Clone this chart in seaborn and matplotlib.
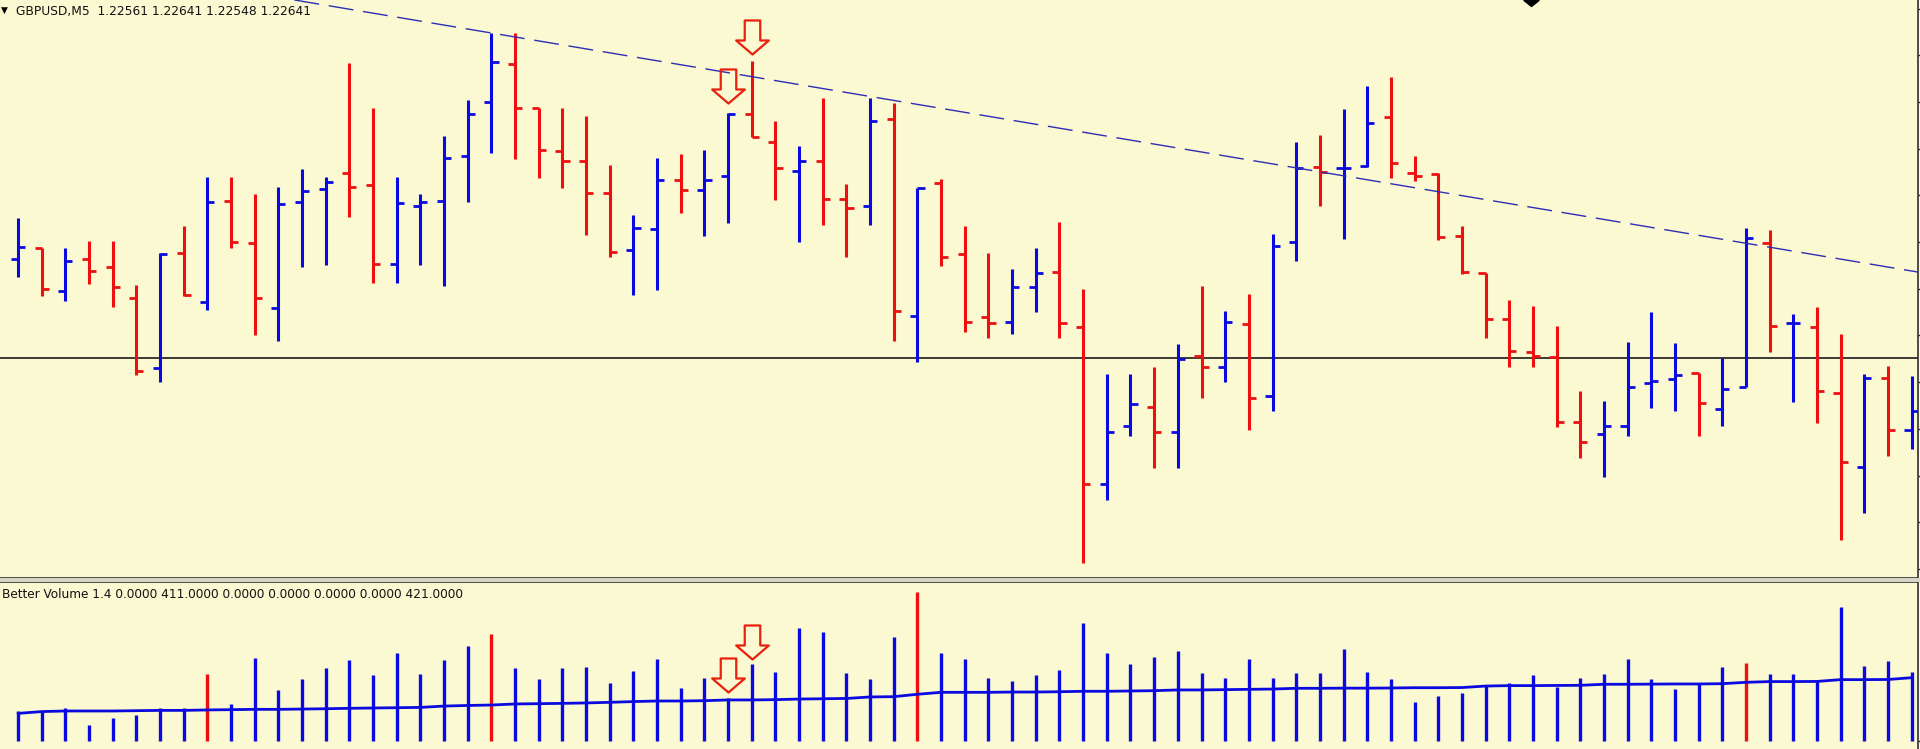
import numpy as np
import pandas as pd
import matplotlib
matplotlib.use("Agg")
import matplotlib.pyplot as plt
import seaborn as sns
from matplotlib.path import Path
from matplotlib.patches import Rectangle

# ---------------- data ----------------
bar_index = list(range(81))
open_ = [1.22691, 1.22702, 1.22659, 1.22691, 1.22683, 1.22652, 1.22582, 1.22697, 1.22648, 1.22749,
         1.22707, 1.22642, 1.22748, 1.22761, 1.22777, 1.22765, 1.22686, 1.22744, 1.22749, 1.22794,
         1.22848, 1.22886, 1.22842, 1.22799, 1.22789, 1.22757, 1.22700, 1.22721, 1.22770, 1.22760,
         1.22774, 1.22836, 1.22808, 1.22779, 1.22789, 1.22751, 1.22744, 1.22831, 1.22634, 1.22767,
         1.22696, 1.22633, 1.22628, 1.22663, 1.22678, 1.22623, 1.22466, 1.22524, 1.22543, 1.22518,
         1.22594, 1.22583, 1.22626, 1.22554, 1.22708, 1.22783, 1.22782, 1.22784, 1.22833, 1.22777,
         1.22776, 1.22714, 1.22677, 1.22631, 1.22598, 1.22593, 1.22528, 1.22516, 1.22524, 1.22567,
         1.22571, 1.22577, 1.22541, 1.22563, 1.22707, 1.22627, 1.22623, 1.22557, 1.22483, 1.22572,
         1.22520]
high = [1.22732, 1.22702, 1.22702, 1.22709, 1.22709, 1.22665, 1.22697, 1.22724, 1.22773, 1.22773,
        1.22756, 1.22763, 1.22781, 1.22773, 1.22887, 1.22842, 1.22773, 1.22756, 1.22814, 1.22850,
        1.22917, 1.22917, 1.22842, 1.22842, 1.22834, 1.22785, 1.22735, 1.22792, 1.22796, 1.22800,
        1.22837, 1.22889, 1.22829, 1.22804, 1.22852, 1.22766, 1.22852, 1.22847, 1.22762, 1.22771,
        1.22724, 1.22697, 1.22681, 1.22702, 1.22728, 1.22661, 1.22576, 1.22576, 1.22583, 1.22606,
        1.22664, 1.22639, 1.22656, 1.22716, 1.22808, 1.22815, 1.22841, 1.22864, 1.22873, 1.22794,
        1.22777, 1.22724, 1.22677, 1.22650, 1.22644, 1.22624, 1.22559, 1.22549, 1.22608, 1.22638,
        1.22607, 1.22577, 1.22592, 1.22722, 1.22720, 1.22636, 1.22643, 1.22616, 1.22576, 1.22584,
        1.22574]
low = [1.22673, 1.22654, 1.22649, 1.22666, 1.22643, 1.22575, 1.22568, 1.22654, 1.22640, 1.22702,
       1.22615, 1.22609, 1.22683, 1.22685, 1.22733, 1.22667, 1.22667, 1.22685, 1.22664, 1.22748,
       1.22797, 1.22791, 1.22772, 1.22762, 1.22715, 1.22693, 1.22655, 1.22660, 1.22737, 1.22714,
       1.22727, 1.22813, 1.22750, 1.22708, 1.22725, 1.22693, 1.22725, 1.22609, 1.22588, 1.22684,
       1.22618, 1.22612, 1.22616, 1.22638, 1.22612, 1.22387, 1.22450, 1.22514, 1.22482, 1.22482,
       1.22552, 1.22568, 1.22520, 1.22539, 1.22689, 1.22744, 1.22711, 1.22783, 1.22772, 1.22769,
       1.22710, 1.22676, 1.22612, 1.22583, 1.22583, 1.22523, 1.22492, 1.22473, 1.22514, 1.22542,
       1.22539, 1.22514, 1.22524, 1.22563, 1.22598, 1.22548, 1.22527, 1.22410, 1.22437, 1.22494,
       1.22501]
close = [1.22703, 1.22661, 1.22689, 1.22679, 1.22663, 1.22579, 1.22696, 1.22655, 1.22748, 1.22708,
         1.22652, 1.22746, 1.22759, 1.22768, 1.22763, 1.22686, 1.22747, 1.22748, 1.22792, 1.22836,
         1.22888, 1.22842, 1.22800, 1.22789, 1.22757, 1.22698, 1.22722, 1.22770, 1.22760, 1.22770,
         1.22836, 1.22813, 1.22782, 1.22789, 1.22751, 1.22742, 1.22829, 1.22639, 1.22762, 1.22693,
         1.22628, 1.22627, 1.22663, 1.22677, 1.22627, 1.22466, 1.22518, 1.22546, 1.22518, 1.22591,
         1.22583, 1.22628, 1.22552, 1.22704, 1.22782, 1.22778, 1.22782, 1.22827, 1.22787, 1.22774,
         1.22713, 1.22678, 1.22631, 1.22599, 1.22594, 1.22528, 1.22508, 1.22524, 1.22563, 1.22569,
         1.22575, 1.22547, 1.22561, 1.22712, 1.22624, 1.22627, 1.22559, 1.22488, 1.22572, 1.22520,
         1.22539]
volume = [201, 196, 219, 107, 152, 174, 219, 219, 449, 246,
          554, 340, 413, 487, 543, 442, 590, 449, 543, 637,
          715, 487, 413, 487, 496, 386, 469, 549, 357, 420,
          290, 514, 464, 755, 732, 458, 413, 699, 1000, 587,
          549, 420, 402, 442, 476, 788, 587, 514, 561, 605,
          458, 420, 549, 420, 458, 458, 616, 464, 413, 264,
          304, 319, 369, 386, 442, 364, 420, 449, 549, 413,
          348, 382, 496, 520, 449, 449, 404, 900, 505, 538,
          464]
volume_ma = [185, 197, 201, 201, 201, 203, 205, 205, 208, 210,
             212, 212, 214, 216, 219, 221, 223, 225, 234, 238,
             241, 248, 250, 252, 255, 259, 264, 268, 268, 270,
             275, 275, 277, 281, 283, 285, 295, 297, 313, 326,
             326, 326, 328, 328, 330, 333, 333, 335, 337, 342,
             342, 344, 346, 348, 353, 353, 354, 354, 355, 357,
             357, 358, 368, 371, 371, 372, 373, 380, 380, 381,
             382, 382, 384, 393, 398, 398, 399, 411, 411, 412,
             424]
climax_bars = [8, 20, 38, 73]
hline_price = 1.22592
trend_bars = [20, 80]
trend_prices = [1.22917, 1.22679]
arrow_bars = [30, 31]
arrow_prices = [1.22864, 1.22913]
arrow_volumes = [442, 660]
shift_marker_bar = 63.9
title_text = "GBPUSD,M5  1.22561 1.22641 1.22548 1.22641"
volume_text = "Better Volume 1.4 0.0000 411.0000 0.0000 0.0000 0.0000 0.0000 421.0000"

# ---------------- style ----------------
BG = "#FAF9D2"
BLUE = "#0A0AE0"
RED = "#EE1010"
sns.set_theme(style="white", rc={"axes.facecolor": BG, "figure.facecolor": BG})
plt.rcParams["font.family"] = ["DejaVu Sans"]

df = pd.DataFrame({"bar": bar_index, "open": open_, "high": high, "low": low,
                   "close": close, "volume": volume, "ma": volume_ma})
df["color"] = np.where(df["close"] >= df["open"], BLUE, RED)
df["vcolor"] = np.where(df["bar"].isin(climax_bars), RED, BLUE)

W, H = 1920, 749
fig = plt.figure(figsize=(W / 100, H / 100), dpi=100)
fig.patches.append(Rectangle((0, (H - 582) / H), 1, 4 / H, transform=fig.transFigure,
                             facecolor="#D6D4C4", edgecolor="none", zorder=0))
right_px = 1917.5
ax = fig.add_axes([0, (H - 578) / H, right_px / W, 578 / H])
axv = fig.add_axes([0, 0, right_px / W, (H - 582) / H])

spacing = 23.67
x0_px = 18.0
xl = (-x0_px / spacing, (right_px - x0_px) / spacing)

# ---------------- main OHLC panel ----------------
ax.set_xlim(*xl)
ax.set_ylim(1.22372, 1.22950)
tick = 0.30
ax.vlines(df["bar"], df["low"], df["high"], colors=df["color"], lw=2.2, capstyle="butt")
ax.hlines(df["open"], df["bar"] - tick, df["bar"], colors=df["color"], lw=2.0, capstyle="butt")
ax.hlines(df["close"], df["bar"], df["bar"] + tick, colors=df["color"], lw=2.0, capstyle="butt")

ax.axhline(hline_price, color="#1a1a1a", lw=1.2, zorder=1)
ax.axline((trend_bars[0], trend_prices[0]), (trend_bars[1], trend_prices[1]),
          color="#2E2EB4", lw=1.0, dashes=(18, 7), zorder=3)

arrow_path = Path([(-0.228, 0.5), (0.228, 0.5), (0.228, -0.088), (0.48, -0.088),
                   (0.0, -0.5), (-0.48, -0.088), (-0.228, -0.088), (-0.228, 0.5)],
                  [Path.MOVETO] + [Path.LINETO] * 6 + [Path.CLOSEPOLY])
ax.plot(arrow_bars, arrow_prices, ls="none", marker=arrow_path, ms=24.5,
        mfc="none", mec="#E8200C", mew=1.6, zorder=5)

diamond = Path([(-1, 0), (0, -0.8), (1, 0), (0, 0.8), (-1, 0)],
               [Path.MOVETO, Path.LINETO, Path.LINETO, Path.LINETO, Path.CLOSEPOLY])
ax.plot([shift_marker_bar], [1.22950], ls="none", marker=diamond, ms=10.8,
        mfc="black", mec="black", zorder=6)

ax.set_xticks([])
ax.set_yticks([1.229415 - 0.000467 * n for n in range(13)])
ax.yaxis.tick_right()
ax.tick_params(axis="y", direction="out", length=2.5, width=1, color="#202020",
               labelright=False, labelleft=False)
for s in ["left", "top"]:
    ax.spines[s].set_visible(False)
for s in ["bottom", "right"]:
    ax.spines[s].set_color("#303030")
    ax.spines[s].set_linewidth(1.2)

# ---------------- volume panel ----------------
axv.set_xlim(*xl)
axv.set_ylim(-53.6, 1065)
axv.vlines(df["bar"], 0, df["volume"], colors=df["vcolor"], lw=2.4, capstyle="butt")
sns.lineplot(data=df, x="bar", y="ma", ax=axv, color=BLUE, lw=2.0, legend=False, zorder=4)
axv.plot(arrow_bars, arrow_volumes, ls="none", marker=arrow_path, ms=24.5,
         mfc="none", mec="#E8200C", mew=1.6, zorder=5)
axv.set_xlabel("")
axv.set_ylabel("")
axv.set_xticks([])
axv.set_yticks([0])
axv.yaxis.tick_right()
axv.tick_params(axis="y", direction="out", length=2.5, width=1, color="#202020",
                labelright=False, labelleft=False)
for s in ["left", "bottom"]:
    axv.spines[s].set_visible(False)
for s in ["top", "right"]:
    axv.spines[s].set_color("#303030")
    axv.spines[s].set_linewidth(1.2)

# ---------------- labels ----------------
fig.text(1 / W, 1 - 10.5 / H, "▼", fontsize=6.5, color="black", va="center", ha="left")
fig.text(16 / W, 1 - 11 / H, title_text, fontsize=8.85, color="#111111", va="center", ha="left")
fig.text(2 / W, (H - 595) / H, volume_text, fontsize=8.75, color="#111111", va="center", ha="left")

fig.savefig("out.png", dpi=100, facecolor=BG)
